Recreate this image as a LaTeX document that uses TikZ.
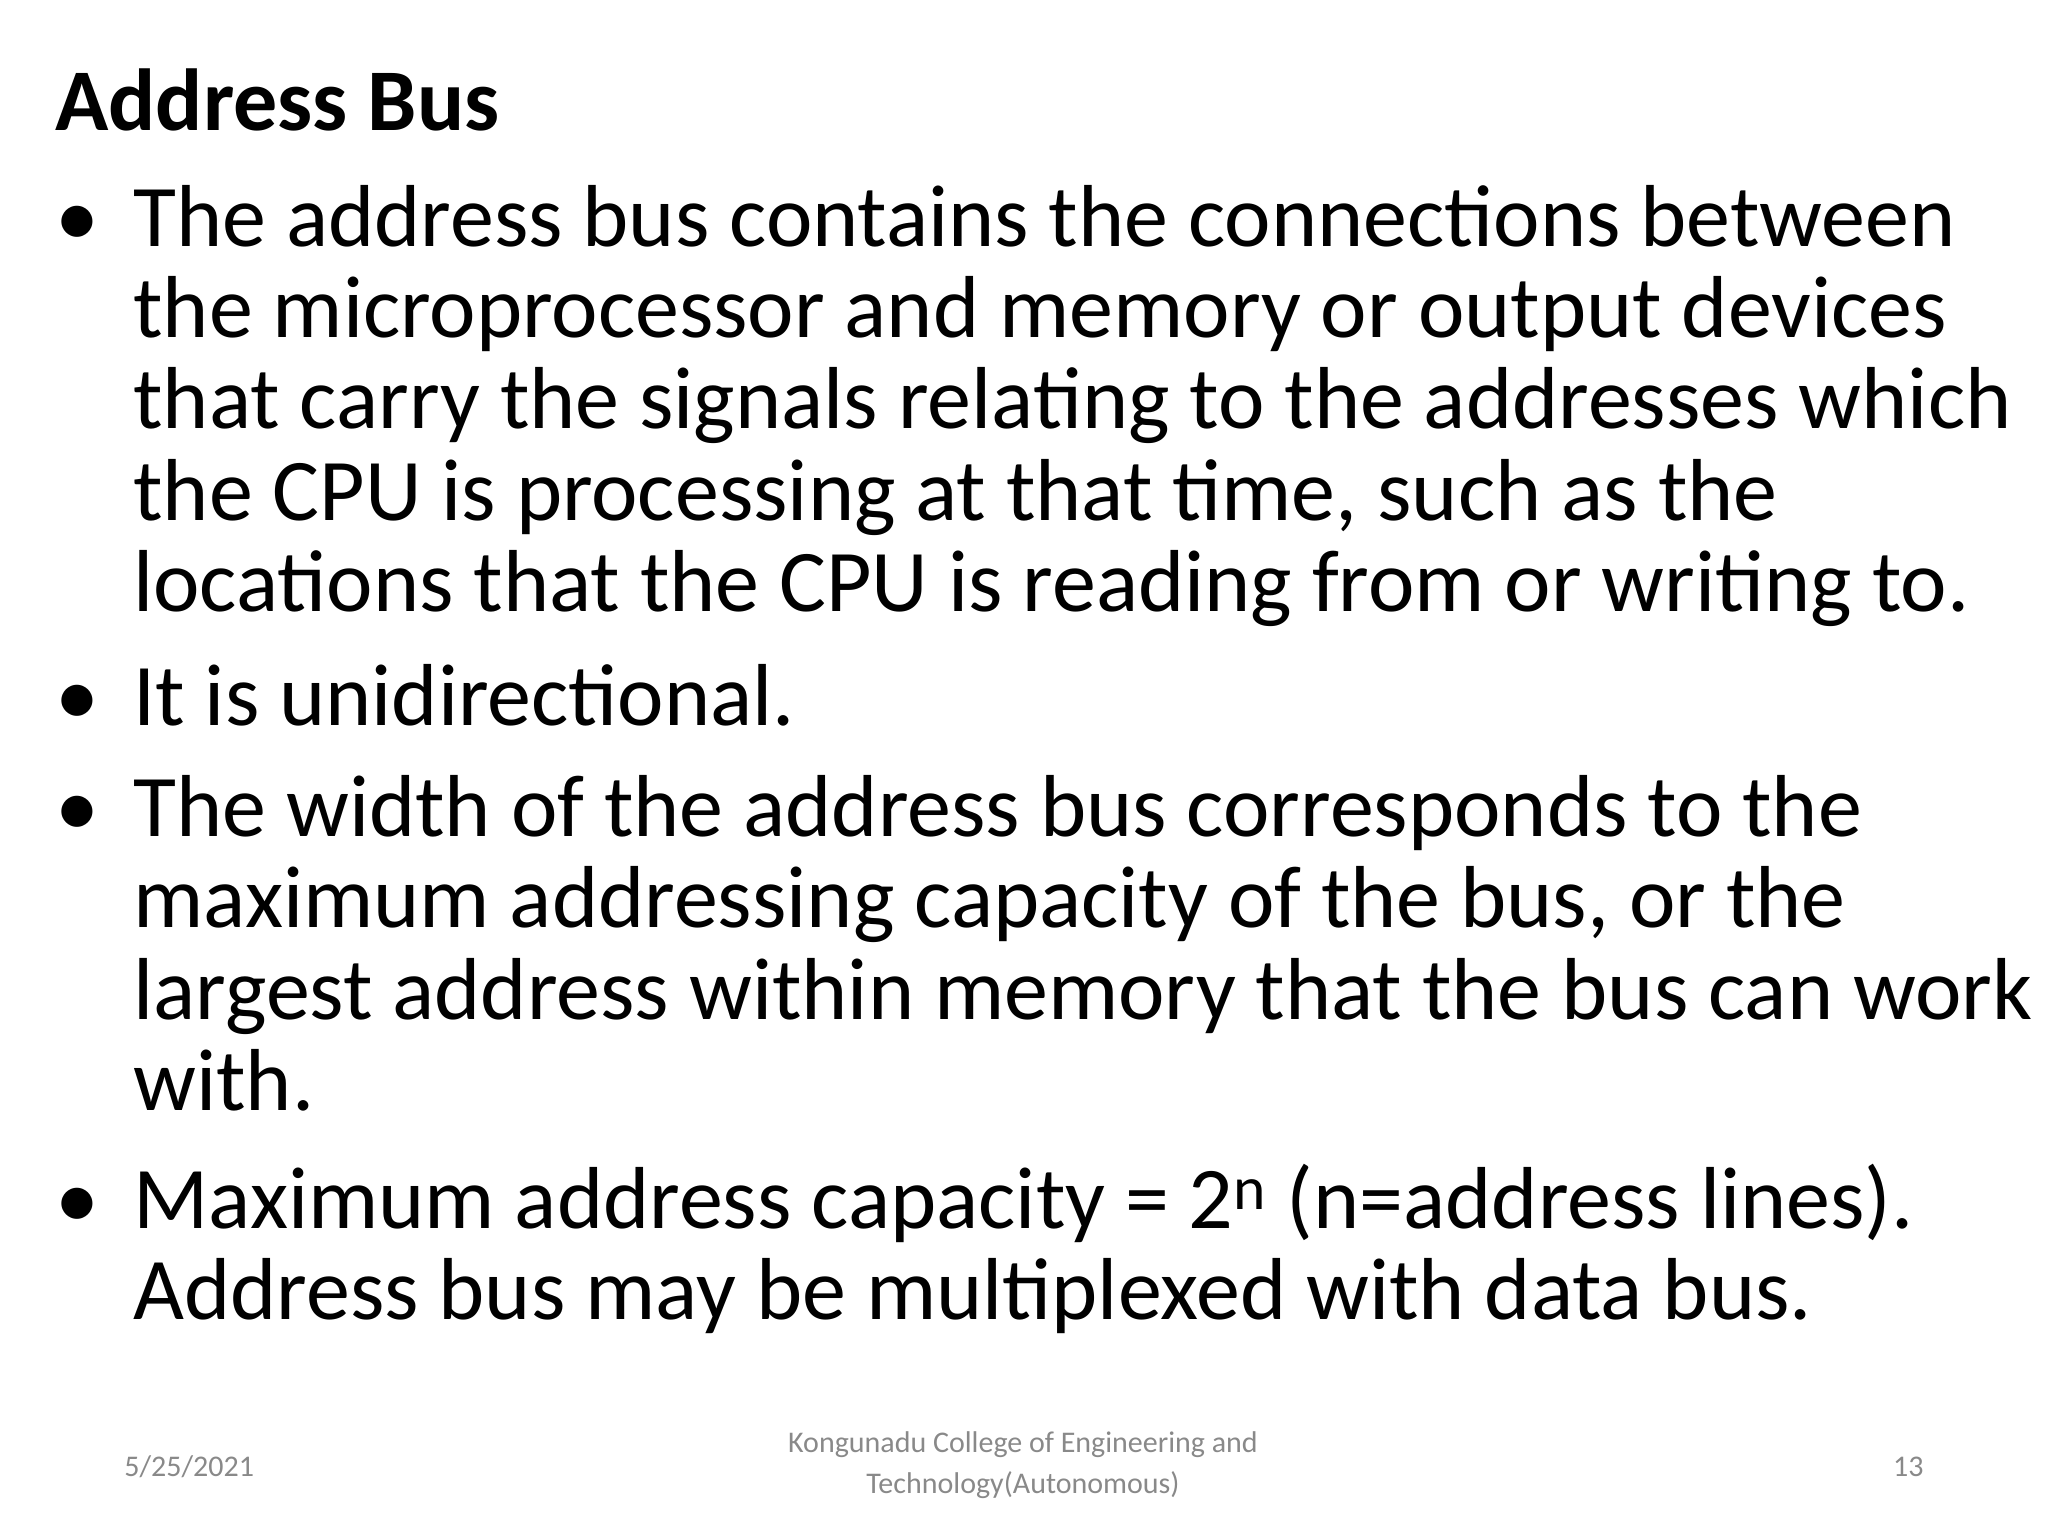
\documentclass[tikz,border=0pt]{standalone}
\usepackage{fontspec}
\setmainfont{Carlito}
\definecolor{foot}{HTML}{898989}
\begin{document}
\begin{tikzpicture}[x=0.5pt,y=-0.5pt,
  body/.style={anchor=base west,inner sep=0pt,font=\fontsize{44}{50}\selectfont},
  bul/.style={anchor=base west,inner sep=0pt,font=\fontsize{44}{50}\selectfont},
  ft/.style={inner sep=0pt,text=foot,font=\fontsize{15}{18}\selectfont}]
\useasboundingbox (0,0) rectangle (2048,1536);
\node[body,font=\fontsize{44}{50}\selectfont\bfseries] (title) at (55,131) {Address Bus};
\foreach \y in {246,725,836,1228}{\node[bul] at (55,\y) {•};}
\node[body] (l1) at (133,246) {The address bus contains the connections between};
\node[body] (l2) at (133,337) {the microprocessor and memory or output devices};
\node[body] (l3) at (133,428) {that carry the signals relating to the addresses which};
\node[body] (l4) at (133,520) {the CPU is processing at that time, such as the};
\node[body] (l5) at (133,611) {locations that the CPU is reading from or writing to.};
\node[body] (l6) at (133,725) {It is unidirectional.};
\node[body] (l7) at (133,836) {The width of the address bus corresponds to the};
\node[body] (l8) at (133,927) {maximum addressing capacity of the bus, or the};
\node[body] (l9) at (133,1019) {largest address within memory that the bus can work};
\node[body] (l10) at (133,1110) {with.};
\node[body] (l11) at (133,1228) {Maximum address capacity = 2\textsuperscript{n} (n=address lines).};
\node[body] (l12) at (133,1319) {Address bus may be multiplexed with data bus.};
\node[ft,anchor=base west] (date) at (124,1476) {5/25/2021};
\node[ft,anchor=base] (c1) at (1023,1452) {Kongunadu College of Engineering and};
\node[ft,anchor=base] (c2) at (1023,1493) {Technology(Autonomous)};
\node[ft,anchor=base east] (pg) at (1924,1476) {13};
\end{tikzpicture}
\end{document}
